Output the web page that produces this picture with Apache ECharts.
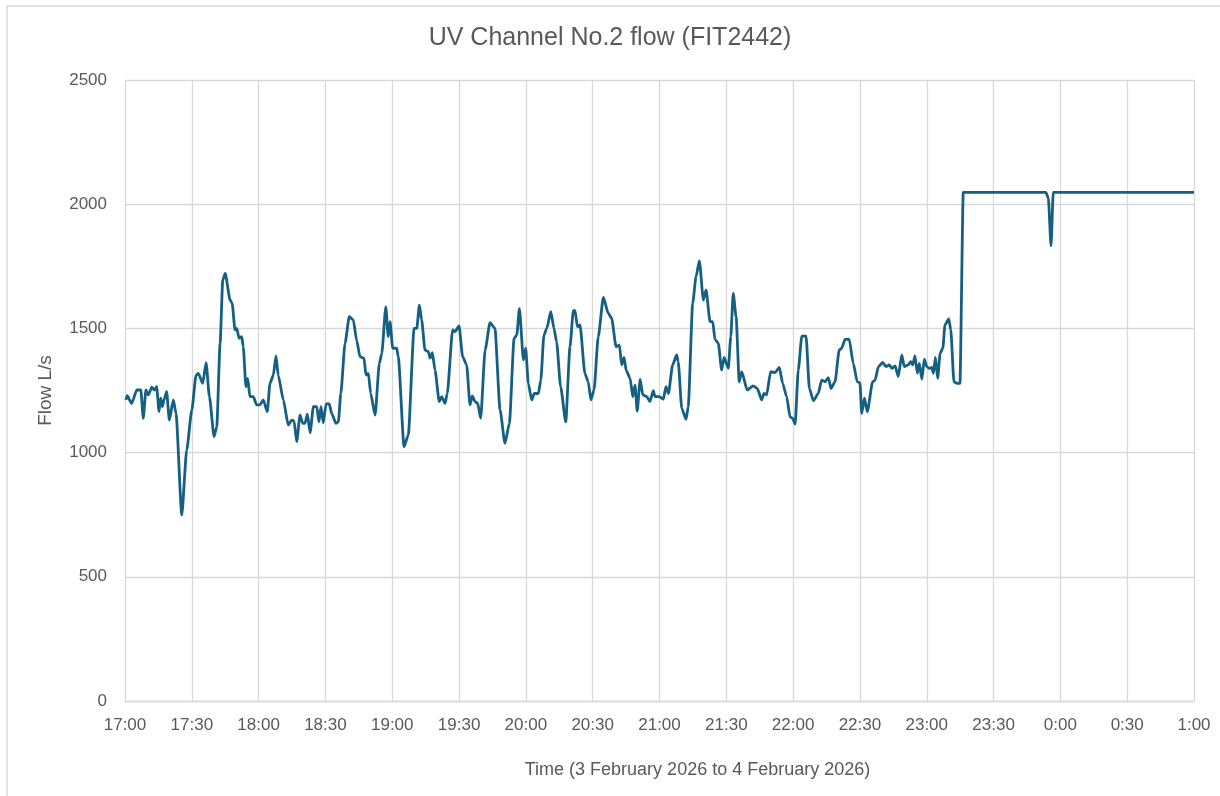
<!DOCTYPE html>
<html>
<head>
<meta charset="utf-8">
<script src="https://cdn.jsdelivr.net/npm/echarts@6/dist/echarts.min.js"></script>
<style>
html,body{margin:0;padding:0;background:#fff;}
#chart{width:1220px;height:796px;}
</style>
</head>
<body>
<div id="chart"></div>
<script>
// Minutes after 17:00 on 3 February 2026
const timeMinutes = [
  0.4,1.0,3.0,5.3,7.1,8.2,9.4,10.5,12.0,13.2,
  14.2,15.3,16.0,16.8,17.5,18.7,19.9,21.7,22.9,25.5,
  27.7,30.0,31.9,32.9,34.9,36.4,37.9,40.0,41.2,42.7,
  43.9,45.0,47.2,48.1,49.4,50.2,51.2,52.4,53.1,54.3,
  55.1,56.1,57.6,59.1,60.6,62.1,63.9,65.1,66.6,67.8,
  68.8,71.1,73.3,74.9,75.9,77.1,78.6,79.8,80.8,81.9,
  83.1,84.6,86.1,87.1,88.0,89.0,90.3,91.7,92.8,94.7,
  95.8,96.9,98.8,100.7,102.5,104.0,105.5,107.3,108.2,109.3,
  110.3,112.3,114.2,115.3,117.1,118.2,119.0,120.2,122.0,122.7,
  125.3,127.2,129.8,131.0,132.2,133.2,134.7,136.2,137.0,138.0,
  139.2,141.1,142.2,143.7,144.7,147.1,148.2,150.0,151.6,153.4,
  154.9,155.9,157.2,158.4,159.7,161.7,163.9,166.1,168.4,170.6,
  172.6,174.7,175.9,177.1,178.9,179.9,181.1,182.6,183.8,185.6,
  186.7,188.1,189.4,191.2,192.6,193.8,195.6,197.9,199.8,201.3,
  202.1,203.1,204.3,206.5,208.0,209.2,210.6,212.5,214.8,217.0,
  218.5,220.5,222.0,223.0,224.1,225.0,226.8,228.0,229.0,230.0,
  231.3,232.5,234.3,235.7,237.2,238.0,239.9,241.7,242.9,244.0,
  245.9,247.7,248.4,250.0,251.9,252.9,254.9,256.4,257.9,259.7,
  260.9,262.7,263.9,264.9,266.4,267.9,269.0,270.9,272.0,273.1,
  274.4,275.8,276.9,279.4,282.1,283.9,285.9,286.9,288.1,289.9,
  291.9,293.8,295.3,297.1,298.6,299.8,300.9,302.3,303.9,305.8,
  307.3,309.1,311.3,312.8,314.3,315.8,317.0,318.8,320.7,321.8,
  323.3,325.2,327.0,328.8,330.0,330.8,332.0,333.3,335.7,336.8,
  338.3,340.2,341.7,343.2,344.3,345.8,347.2,348.8,349.9,351.7,
  352.8,353.7,354.7,355.8,356.7,357.8,358.9,360.0,361.2,362.3,
  363.0,363.9,364.9,366.0,367.2,368.2,369.9,370.8,372.2,373.5,
  374.9,376.4,413.5,414.6,415.8,416.8,480
];

// Flow L/s
const flowValues = [
  1212,1229,1198,1252,1252,1138,1252,1232,1263,1252,
  1265,1165,1219,1185,1212,1245,1131,1212,1158,749,
  1010,1171,1312,1319,1279,1362,1225,1064,1104,1440,
  1695,1721,1614,1601,1494,1500,1460,1467,1426,1265,
  1299,1225,1225,1192,1192,1212,1165,1279,1312,1389,
  1312,1212,1111,1131,1128,1044,1151,1118,1118,1155,
  1080,1185,1185,1124,1185,1120,1196,1196,1158,1118,
  1124,1238,1440,1547,1534,1453,1386,1380,1312,1319,
  1238,1151,1359,1399,1587,1467,1527,1420,1420,1386,
  1024,1071,1500,1500,1594,1534,1413,1406,1380,1402,
  1332,1205,1225,1198,1238,1494,1487,1510,1386,1353,
  1192,1228,1205,1198,1138,1413,1523,1500,1172,1037,
  1118,1460,1473,1580,1373,1420,1279,1212,1238,1238,
  1292,1473,1500,1567,1500,1446,1265,1124,1426,1571,
  1571,1507,1514,1319,1285,1212,1252,1467,1625,1561,
  1541,1426,1433,1353,1383,1332,1299,1225,1272,1167,
  1295,1232,1225,1205,1249,1225,1225,1215,1265,1238,
  1353,1393,1366,1178,1134,1185,1601,1708,1772,1614,
  1655,1527,1527,1456,1440,1332,1383,1339,1467,1641,
  1547,1285,1326,1252,1269,1258,1212,1238,1232,1326,
  1322,1343,1279,1225,1144,1138,1115,1332,1469,1469,
  1258,1209,1238,1292,1285,1302,1258,1285,1413,1420,
  1456,1456,1359,1285,1281,1158,1219,1165,1285,1292,
  1346,1363,1346,1353,1339,1349,1306,1393,1346,1353,
  1366,1353,1389,1319,1359,1295,1376,1346,1339,1343,
  1319,1383,1299,1399,1420,1514,1538,1494,1285,1279,
  1279,2048,2048,2024,1832,2048,2048
];

const xTickLabels = ['17:00','17:30','18:00','18:30','19:00','19:30','20:00','20:30',
  '21:00','21:30','22:00','22:30','23:00','23:30','0:00','0:30','1:00'];

const chartTitle = 'UV Channel No.2 flow (FIT2442)';
const xAxisTitle = 'Time (3 February 2026 to 4 February 2026)';
const yAxisTitle = 'Flow L/s';

const seriesData = timeMinutes.map((m, i) => [m, flowValues[i]]);

const textColor = '#595959';
const gridColor = '#d9d9d9';
const fontFamily = '"Liberation Sans", Arial, sans-serif';

const chart = echarts.init(document.getElementById('chart'));
chart.setOption({
  animation: false,
  backgroundColor: '#ffffff',
  title: {
    text: chartTitle,
    left: 'center',
    top: 21,
    textStyle: { color: textColor, fontSize: 25, fontWeight: 'normal', fontFamily: fontFamily }
  },
  graphic: [{
    type: 'rect',
    shape: { x: 7, y: 6, width: 1240, height: 820 },
    style: { fill: 'none', stroke: '#d9d9d9', lineWidth: 1.5 },
    silent: true
  }],
  grid: { left: 125, right: 26, top: 80, bottom: 95, containLabel: false },
  xAxis: {
    type: 'value',
    min: 0,
    max: 480,
    interval: 30,
    name: xAxisTitle,
    nameLocation: 'middle',
    nameGap: 60,
    nameTextStyle: { color: textColor, fontSize: 18, fontFamily: fontFamily, padding: [0, 0, 0, 76] },
    axisLine: { show: true, lineStyle: { color: gridColor, width: 1.3 } },
    axisTick: { show: false },
    axisLabel: {
      color: textColor, fontSize: 17, fontFamily: fontFamily, margin: 16,
      formatter: v => xTickLabels[Math.round(v / 30)]
    },
    splitLine: { show: true, lineStyle: { color: gridColor, width: 1.3 } }
  },
  yAxis: {
    type: 'value',
    min: 0,
    max: 2500,
    interval: 500,
    name: yAxisTitle,
    nameLocation: 'middle',
    nameGap: 70,
    nameRotate: 90,
    nameTextStyle: { color: textColor, fontSize: 19, fontFamily: fontFamily },
    axisLine: { show: false },
    axisTick: { show: false },
    axisLabel: {
      color: textColor, fontSize: 17, fontFamily: fontFamily, margin: 18,
      formatter: v => String(v)
    },
    splitLine: { show: true, lineStyle: { color: gridColor, width: 1.3 } }
  },
  series: [{
    type: 'line',
    data: seriesData,
    showSymbol: false,
    smooth: 0.2,
    smoothMonotone: 'x',
    lineStyle: { color: '#156082', width: 2.8 },
    itemStyle: { color: '#156082' }
  }]
});
</script>
</body>
</html>
